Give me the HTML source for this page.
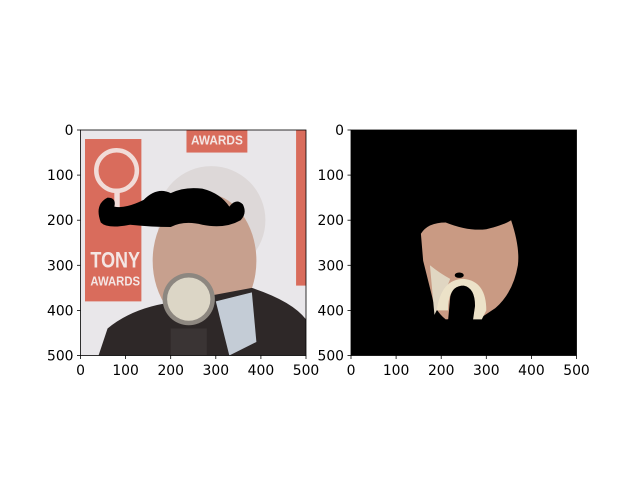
<!DOCTYPE html>
<html><head><meta charset="utf-8"><style>
html,body{margin:0;padding:0;background:#fff;width:640px;height:480px;overflow:hidden}
text.tk{font-family:"DejaVu Sans","Liberation Sans",sans-serif;font-size:13.9px;fill:#000}
</style></head><body>
<svg id="fig" width="640" height="480" viewBox="0 0 640 480">
<defs><clipPath id="c1"><rect x="0" y="0" width="500" height="500"/></clipPath></defs>
<g transform="translate(80.5,130) scale(0.451)" clip-path="url(#c1)">
  <rect width="500" height="500" fill="#e9e7ea"/>
  <rect x="10" y="20" width="125" height="360" fill="#d96c5c"/>
  <circle cx="80" cy="90" r="45" fill="none" stroke="#f1dcd8" stroke-width="10"/>
  <rect x="75" y="130" width="12" height="80" fill="#f1dcd8"/>
  <text x="22" y="305" style="font-family:'Liberation Sans',sans-serif;font-size:50px;fill:#f4e6e4;font-weight:bold" textLength="110" lengthAdjust="spacingAndGlyphs">TONY</text>
  <text x="22" y="345" style="font-family:'Liberation Sans',sans-serif;font-size:28px;fill:#f4e6e4;font-weight:bold" textLength="110" lengthAdjust="spacingAndGlyphs">AWARDS</text>
  <rect x="235" y="0" width="135" height="50" fill="#d96c5c"/>
  <text x="245" y="32" style="font-family:'Liberation Sans',sans-serif;font-size:28px;fill:#f4e6e4;font-weight:bold" textLength="115" lengthAdjust="spacingAndGlyphs">AWARDS</text>
  <rect x="478" y="0" width="22" height="345" fill="#d96c5c"/>
  <ellipse cx="290" cy="200" rx="120" ry="120" fill="#ddd8d8"/>
  <ellipse cx="275" cy="290" rx="115" ry="150" fill="#c7a08e"/>
  <path d="M40,500 L60,440 Q120,390 220,380 L380,350 Q470,380 500,420 L500,500 Z" fill="#2e2828"/>
  <path d="M300,380 L380,360 L390,470 L330,500 Z" fill="#c4ccd6"/>
  <circle cx="240" cy="375" r="58" fill="#8d8780"/>
  <circle cx="240" cy="375" r="48" fill="#dcd6c6"/>
  <rect x="200" y="440" width="80" height="60" fill="#3a3434"/>
  <path d="M45,205 Q30,165 60,150 Q80,150 75,170 Q100,175 140,155 Q170,125 200,140 Q230,125 270,130 Q310,140 330,170 Q345,150 360,165 Q370,185 355,200 Q320,220 270,210 Q230,200 200,215 Q160,215 110,210 Q60,220 45,205 Z" fill="#000"/>
</g>
<rect x="80.5" y="130" width="225.5" height="225.5" fill="none" stroke="#000" stroke-width="0.8"/>
<g transform="translate(351,130) scale(0.451)" clip-path="url(#c1)">
  <rect width="500" height="500" fill="#000"/>
  <path d="M155,230 Q170,205 210,205 Q260,225 300,220 Q340,210 355,200 Q375,260 370,300 Q360,360 320,395 L290,415 L210,420 Q185,400 180,370 Q170,330 160,290 Z" fill="#c99a83"/>
  <path d="M175,300 Q200,320 220,330 L200,380 L185,410 Z" fill="#e0d6c2"/>
  <path d="M190,400 Q200,330 250,330 Q300,335 300,400 L290,420 L270,420 L275,390 Q275,350 245,345 Q215,350 215,400 Z" fill="#ece2c8"/>
  <path d="M220,370 Q225,345 250,345 Q275,350 275,390 L270,425 L215,425 Z" fill="#000"/>
  <ellipse cx="240" cy="322" rx="10" ry="6" fill="#000"/>
</g>
<rect x="351" y="130" width="225.5" height="225.5" fill="none" stroke="#000" stroke-width="0.8"/>
<g id="ticks"></g>
</svg>
<script>
const tickValues=[0,100,200,300,400,500];
const axesLeft=[80.5,351];
const top0=130, size=225.5, maxV=500;
const g=document.getElementById('ticks');
const ns='http://www.w3.org/2000/svg';
axesLeft.forEach((L,ai)=>{
  tickValues.forEach(v=>{
    const x=L+v/maxV*size, y=top0+v/maxV*size;
    let t=document.createElementNS(ns,'line');
    t.setAttribute('x1',x);t.setAttribute('x2',x);t.setAttribute('y1',top0+size);t.setAttribute('y2',top0+size+3.5);
    t.setAttribute('stroke','#000');t.setAttribute('stroke-width','0.8');
    
    
    g.appendChild(t);
    let tx=document.createElementNS(ns,'text');
    tx.setAttribute('class','tk');
    tx.setAttribute('x',x);tx.setAttribute('y',top0+size+19.5);tx.setAttribute('text-anchor','middle');
    tx.textContent=v;
    
    
    g.appendChild(tx);
    let t2=document.createElementNS(ns,'line');
    t2.setAttribute('x1',L-3.5);t2.setAttribute('x2',L);t2.setAttribute('y1',y);t2.setAttribute('y2',y);
    t2.setAttribute('stroke','#000');t2.setAttribute('stroke-width','0.8');
    
    
    g.appendChild(t2);
    let ty=document.createElementNS(ns,'text');
    ty.setAttribute('class','tk');
    ty.setAttribute('x',L-7);ty.setAttribute('y',y+5);ty.setAttribute('text-anchor','end');
    ty.textContent=v;
    
    
    g.appendChild(ty);
  });
});
</script>
</body></html>
